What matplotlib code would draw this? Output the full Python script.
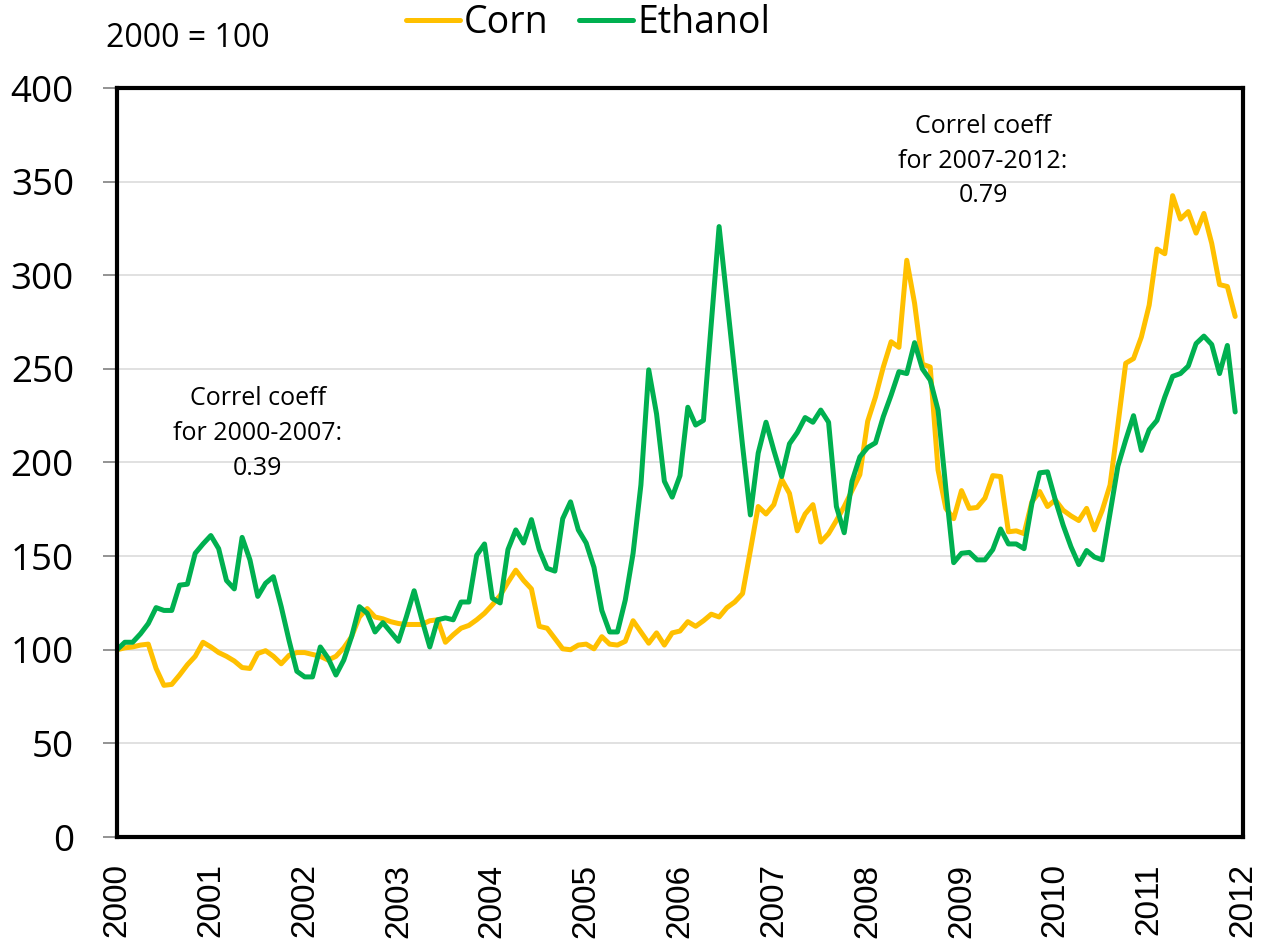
import matplotlib
matplotlib.use("Agg")
import matplotlib.pyplot as plt
import numpy as np

W, H = 1264, 947

years = [str(y) for y in range(2000, 2013)]
yticks = [0, 50, 100, 150, 200, 250, 300, 350, 400]

corn = [100, 101, 101.5, 102.5, 103, 90, 81, 81.5, 86.5, 92, 96.5, 104,
        101.5, 98.5, 96.5, 94, 90.5, 90, 98, 99.5, 96.5, 92.5, 97, 98.5,
        98.5, 97.5, 96.5, 94.5, 96.5, 101, 107, 117.5, 122, 117.5, 116.5, 115,
        114, 113.5, 113.5, 113.5, 115.5, 116, 104, 108, 111.5, 113, 116, 119.5,
        124, 129, 136, 142.5, 137, 132.5, 112.5, 111.5, 106, 100.5, 100, 102.5,
        103, 100.5, 107, 103, 102.5, 104.5, 115.5, 109.5, 103.5, 109, 102.5, 109,
        110, 115, 112.5, 115.5, 119, 117.5, 122.5, 125.5, 130, 153, 176.5, 172.5,
        177.5, 191, 183.5, 163.5, 172.5, 177.5, 157.5, 162, 169, 176.5, 185, 193.5,
        222, 235, 251, 264.5, 261.5, 308, 285, 252.5, 251, 196, 175.5, 170,
        185, 175.5, 176, 181, 193, 192.5, 163, 163.5, 162, 179, 184.5, 176.5,
        180, 174.5, 171.5, 169, 175.5, 164, 174.5, 188, 220, 253, 255.5, 267,
        284, 314, 311.5, 342.5, 330, 334, 322.5, 333, 317, 295, 294, 278]

ethanol = [100, 104, 104, 108.5, 114, 122.5, 121, 121, 134.5, 135, 151.5, 156.5,
           161, 154, 137, 132.5, 160, 148, 128.5, 135.5, 139, 123, 105, 88.5,
           85.5, 85.5, 101.5, 95.5, 86.5, 94.5, 107, 123, 119.5, 109.5, 114.5, 109.5,
           104.5, 117.5, 131.5, 116, 101.5, 116, 117, 116, 125.5, 125.5, 150.5, 156.5,
           127.5, 125, 153.5, 164, 157, 169.5, 153.5, 143.5, 142, 170, 179, 164,
           157, 144, 121, 109.5, 109.5, 126.5, 151.5, 188, 249.5, 226, 190, 181.5,
           193, 229.5, 220, 222.5, 274, 326, 287, 248, 209, 172, 205, 221.5,
           206.5, 192.5, 210, 216, 224, 221.5, 228, 221.5, 176.5, 162.5, 190, 203,
           208, 210.5, 224.5, 236, 248.5, 247.5, 264, 250, 244, 228, 186, 146.5,
           151.5, 152, 148, 148, 153.5, 164.5, 156.5, 156.5, 154, 178, 194.5, 195,
           180, 166.5, 155, 145.5, 153, 149.5, 148, 173, 198, 212, 225, 206.5,
           217.5, 222.5, 235, 246, 247.5, 251.5, 263.5, 267.5, 263, 247.5, 262.5, 227]

series_names = ["Corn", "Ethanol"]
colors = ["#FFC000", "#00B050"]

fig = plt.figure(figsize=(W / 100, H / 100), dpi=100)
ax = fig.add_axes([117 / W, 1 - 837 / H, (1243 - 117) / W, (837 - 88) / H])

months = np.arange(len(corn))
for vals, name, col in zip([corn, ethanol], series_names, colors):
    ax.plot(months, vals, color=col, lw=3.6, label=name,
            solid_joinstyle="round", solid_capstyle="round", zorder=3)

ax.set_xlim(0, 144)
ax.set_ylim(0, 400)
ax.set_yticks(yticks)
ax.set_yticklabels([str(v) for v in yticks], fontsize=26.5, family="Open Sans")
ax.set_xticks(np.arange(0, 145, 12))
ax.set_xticklabels(years, rotation=90, fontsize=24, family="Liberation Sans")
ax.tick_params(axis="y", length=10, width=1.2, color="#808080", pad=21)
ax.tick_params(axis="x", length=0, pad=19)
ax.grid(axis="y", color="#D9D9D9", lw=1.1, zorder=0)
ax.set_axisbelow(True)
for s in ax.spines.values():
    s.set_linewidth(3)
    s.set_color("black")
    s.set_zorder(4)

def ftext(x, y, s, size, **kw):
    fig.text(x / W, 1 - y / H, s, fontsize=size, family="Open Sans", **kw)

ftext(106, 47, "2000 = 100", 23, ha="left", va="baseline")

ann1 = ["Correl coeff", "for 2000-2007:", "0.39"]
for k, line in enumerate(ann1):
    ftext(258, 405 + 35 * k, line, 18, ha="center", va="baseline")
ann2 = ["Correl coeff", "for 2007-2012:", "0.79"]
for k, line in enumerate(ann2):
    ftext(983, 133 + 34.5 * k, line, 18, ha="center", va="baseline")

fig.legend(loc="center", bbox_to_anchor=(588 / W, 1 - 23 / H), ncol=2,
           frameon=False, prop={"family": "Open Sans", "size": 27},
           handlelength=1.45, handletextpad=0.1, columnspacing=0.8,
           borderpad=0, borderaxespad=0)

fig.savefig("out.png", dpi=100)
